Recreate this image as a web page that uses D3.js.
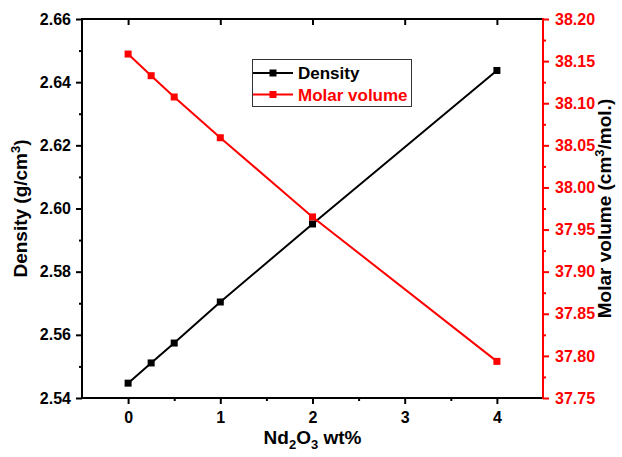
<!DOCTYPE html>
<html>
<head>
<meta charset="utf-8">
<script src="https://cdn.jsdelivr.net/npm/d3@7/dist/d3.min.js"></script>
<style>
  html, body { margin: 0; padding: 0; background: #fff; }
  svg { display: block; font-family: "Liberation Sans", Arial, sans-serif; font-weight: bold; }
</style>
</head>
<body>
<svg id="chart" width="622" height="457"></svg>
<script>
// Nd2O3 content (wt%)
const content = [0, 0.25, 0.5, 1, 2, 4];
// Density (g/cm3)
const density = [2.5447, 2.5511, 2.5574, 2.5704, 2.5951, 2.6437];
// Molar volume (cm3/mol.)
const molarVolume = [38.1584, 38.1327, 38.1074, 38.059, 37.965, 37.7935];

const xTicks = [0, 1, 2, 3, 4];
const xMinorTicks = [0.5, 1.5, 2.5, 3.5];
const densityTicks = [2.54, 2.56, 2.58, 2.60, 2.62, 2.64, 2.66];
const densityMinor = [2.55, 2.57, 2.59, 2.61, 2.63, 2.65];
const volumeTicks = [37.75, 37.80, 37.85, 37.90, 37.95, 38.00, 38.05, 38.10, 38.15, 38.20];
const volumeMinor = [37.775, 37.825, 37.875, 37.925, 37.975, 38.025, 38.075, 38.125, 38.175];

const RED = "#ff0000";
const svg = d3.select("#chart");
const L = 82, R = 543, T = 19, B = 398;

const x = d3.scaleLinear().domain([-0.5, 4.5]).range([L, R]);
const yD = d3.scaleLinear().domain([2.54, 2.66]).range([B, T]);
const yV = d3.scaleLinear().domain([37.75, 38.20]).range([B, T]);

// tick styling shared by every axis
function styleAxis(g, color) {
  g.selectAll(".domain").remove();
  g.selectAll("line").attr("stroke", color).attr("stroke-width", 2);
  g.selectAll("text").attr("fill", color).style("font-size", "16px").style("font-weight", "bold");
}

// bottom
svg.append("g").attr("transform", `translate(0,${B})`)
  .call(d3.axisBottom(x).tickValues(xTicks).tickFormat(d3.format("d")).tickSize(6).tickPadding(8))
  .call(g => styleAxis(g, "#000"));
svg.append("g").attr("transform", `translate(0,${B})`)
  .call(d3.axisBottom(x).tickValues(xMinorTicks).tickFormat("").tickSize(3))
  .call(g => styleAxis(g, "#000"));
// top (inward)
svg.append("g").attr("transform", `translate(0,${T})`)
  .call(d3.axisBottom(x).tickValues(xTicks).tickFormat("").tickSize(6))
  .call(g => styleAxis(g, "#000"));

// left
svg.append("g").attr("transform", `translate(${L},0)`)
  .call(d3.axisLeft(yD).tickValues(densityTicks).tickFormat(d3.format(".2f")).tickSize(6).tickPadding(5))
  .call(g => styleAxis(g, "#000"));
svg.append("g").attr("transform", `translate(${L},0)`)
  .call(d3.axisLeft(yD).tickValues(densityMinor).tickFormat("").tickSize(3))
  .call(g => styleAxis(g, "#000"));

// right
svg.append("g").attr("transform", `translate(${R},0)`)
  .call(d3.axisRight(yV).tickValues(volumeTicks).tickFormat(d3.format(".2f")).tickSize(6).tickPadding(6))
  .call(g => styleAxis(g, RED));
svg.append("g").attr("transform", `translate(${R},0)`)
  .call(d3.axisRight(yV).tickValues(volumeMinor).tickFormat("").tickSize(3))
  .call(g => styleAxis(g, RED));

// frame
svg.append("line").attr("x1", L).attr("x2", R).attr("y1", T).attr("y2", T).attr("stroke", "#000").attr("stroke-width", 2);
svg.append("line").attr("x1", L).attr("x2", R).attr("y1", B).attr("y2", B).attr("stroke", "#000").attr("stroke-width", 2);
svg.append("line").attr("x1", L).attr("x2", L).attr("y1", T - 1).attr("y2", B + 1).attr("stroke", "#000").attr("stroke-width", 2);
svg.append("line").attr("x1", R).attr("x2", R).attr("y1", T - 1).attr("y2", B + 1).attr("stroke", RED).attr("stroke-width", 2);

// series: line with square markers
function drawSeries(values, yScale, color) {
  const pts = content.map((c, i) => [x(c), yScale(values[i])]);
  svg.append("path").attr("d", d3.line()(pts)).attr("fill", "none")
    .attr("stroke", color).attr("stroke-width", 2);
  svg.append("g").selectAll("rect").data(pts).join("rect")
    .attr("x", d => d[0] - 3.5).attr("y", d => d[1] - 3.5)
    .attr("width", 7).attr("height", 7).attr("fill", color);
}
drawSeries(density, yD, "#000");
drawSeries(molarVolume, yV, RED);

// axis titles
const xt = svg.append("text").attr("x", (L + R) / 2).attr("y", 444).attr("text-anchor", "middle")
  .style("font-size", "19px").attr("fill", "#000");
xt.append("tspan").text("Nd");
xt.append("tspan").attr("dy", 5).style("font-size", "13px").text("2");
xt.append("tspan").attr("dy", -5).text("O");
xt.append("tspan").attr("dy", 5).style("font-size", "13px").text("3");
xt.append("tspan").attr("dy", -5).text(" wt%");

const lt = svg.append("text").attr("transform", `translate(27,${(T + B) / 2}) rotate(-90)`)
  .attr("text-anchor", "middle").style("font-size", "19px").attr("fill", "#000");
lt.append("tspan").text("Density (g/cm");
lt.append("tspan").attr("dy", -7).style("font-size", "13px").text("3");
lt.append("tspan").attr("dy", 7).text(")");

const rt = svg.append("text").attr("transform", `translate(611,${(T + B) / 2}) rotate(-90)`)
  .attr("text-anchor", "middle").style("font-size", "19px").attr("fill", "#000");
rt.append("tspan").text("Molar volume (cm");
rt.append("tspan").attr("dy", -7).style("font-size", "13px").text("3");
rt.append("tspan").attr("dy", 7).text("/mol.)");

// legend
const lg = svg.append("g");
lg.append("rect").attr("x", 252.5).attr("y", 59.5).attr("width", 159).attr("height", 47)
  .attr("fill", "#fff").attr("stroke", "#333").attr("stroke-width", 1);
const legendItems = [["Density", "#000"], ["Molar volume", RED]];
legendItems.forEach(([label, color], i) => {
  const cy = 73 + i * 21.5;
  lg.append("line").attr("x1", 253).attr("x2", 293).attr("y1", cy).attr("y2", cy)
    .attr("stroke", color).attr("stroke-width", 2);
  lg.append("rect").attr("x", 273 - 3.5).attr("y", cy - 3.5).attr("width", 7).attr("height", 7).attr("fill", color);
  lg.append("text").attr("x", 298).attr("y", cy + 6).style("font-size", "17px").attr("fill", color).text(label);
});
</script>
</body>
</html>
